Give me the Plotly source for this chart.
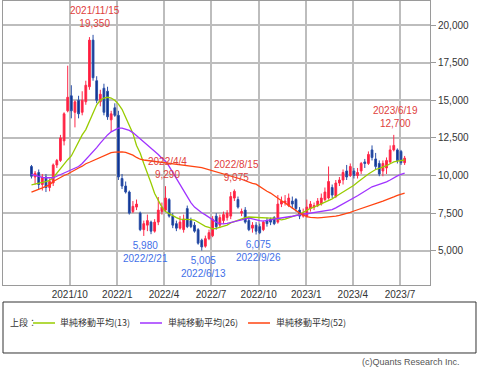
import pandas as pd
import plotly.graph_objects as go

# Weekly candles from 2021-07-19 to 2023-07-10
week_start = "2021-07-19"
n_weeks = 104
dates = pd.date_range(week_start, periods=n_weeks, freq="W-MON")

opens = [10600, 9900, 10200, 9400, 9900, 9200, 9500, 10700, 11000, 12300,
         14300, 15300, 14200, 15000, 14200, 14900, 15900, 19000, 16300, 14900,
         15800, 15600, 13700, 14500, 14000, 9800, 9300, 8900, 7600, 7900,
         7500, 6400, 6700, 6900, 6300, 6900, 7600, 7700, 8400, 7300,
         6800, 6500, 6400, 7800, 7000, 6700, 6400, 5700, 5300, 5800,
         6000, 7300, 6700, 7000, 7200, 7300, 8500, 8400, 7500, 7700,
         7000, 6500, 6700, 6600, 6400, 7000, 7100, 7200, 6900, 8100,
         8200, 8000, 8300, 8400, 7700, 7300, 7300, 7800, 7900, 8000,
         8100, 8400, 8500, 9200, 8600, 9500, 9700, 10300, 10000, 10300,
         10000, 10300, 10900, 10800, 11700, 11100, 10800, 10300, 10500, 10900,
         11700, 11700, 11600, 10850]
highs = [10700, 10300, 10400, 10100, 10100, 9800, 10800, 11100, 12700, 14200,
         17300, 16000, 15000, 15300, 15600, 16300, 19200, 19350, 16600, 15700,
         16100, 15900, 14300, 14800, 14300, 10100, 9600, 9000, 8300, 8400,
         7600, 7000, 7400, 7000, 7100, 8570, 8200, 9290, 8500, 7500,
         7000, 7300, 7400, 8000, 7200, 6900, 6500, 5800, 6000, 6400,
         7300, 7500, 7400, 7600, 7700, 8900, 9075, 8600, 7800, 7900,
         7200, 6900, 6900, 6800, 7000, 7200, 7200, 7300, 8700, 8600,
         8700, 8800, 8600, 8500, 7900, 7800, 8400, 8300, 8200, 8500,
         8800, 9200, 10600, 9400, 9700, 9900, 10400, 10700, 10800, 10500,
         10500, 10900, 11100, 11600, 12000, 11500, 11000, 11000, 11200, 12000,
         12700, 11800, 11700, 11300]
lows = [9800, 9400, 9100, 9000, 8900, 8950, 9300, 10500, 10900, 12000,
        14200, 13800, 13200, 13800, 14000, 14700, 15700, 16300, 14800, 14600,
        14000, 13700, 12900, 13900, 9700, 9100, 8800, 7400, 7500, 7700,
        6300, 5980, 6300, 6100, 6200, 6700, 7400, 7600, 7200, 6500,
        6300, 6400, 6200, 6500, 6500, 6200, 5400, 5005, 5200, 5700,
        5900, 6400, 6500, 6800, 7000, 7100, 8300, 7800, 7300, 6800,
        6300, 6200, 6075, 6100, 6300, 6600, 6700, 6700, 6800, 7900,
        8000, 7900, 7800, 7600, 7100, 7200, 7200, 7600, 7700, 7900,
        8000, 8300, 8400, 8500, 8500, 9300, 9400, 9700, 9900, 9800,
        9800, 10100, 10500, 10700, 11000, 10400, 9950, 9950, 10100, 10800,
        11600, 10800, 10700, 10700]
closes = [9950, 10150, 9400, 9900, 9200, 9600, 10700, 11000, 12500, 14100,
          15200, 14300, 14900, 14100, 15000, 16000, 19000, 16500, 15000, 15400,
          14200, 13900, 14100, 14000, 9900, 9300, 8900, 7500, 7950, 8100,
          6400, 6800, 7000, 6300, 6900, 7700, 7900, 8500, 7300, 6700,
          6500, 6900, 7100, 6600, 6600, 6300, 5500, 5250, 5800, 6200,
          7100, 6600, 7200, 7400, 7500, 8600, 8950, 7900, 7600, 6900,
          6400, 6700, 6300, 6200, 6900, 6800, 6900, 6800, 8100, 8300,
          8300, 8500, 8100, 7800, 7300, 7500, 7900, 8100, 8000, 8300,
          8500, 8900, 9600, 8700, 9500, 9700, 10200, 9900, 10600, 10000,
          10200, 10800, 10800, 11400, 11200, 10600, 10100, 10800, 11000, 11700,
          12000, 11000, 10850, 11150]

ma13 = [9380, 9420, 9480, 9540, 9600, 9680, 9850, 10150, 10500, 10800,
        11050, 11300, 11800, 12300, 12700, 13050, 13600, 14200, 14700, 15000,
        15150, 15200, 15150, 15000, 14750, 14400, 13900, 13400, 12800, 12000,
        11500, 10800, 10200, 9500, 8800, 8300, 7900, 7600, 7450, 7300,
        7200, 7100, 7100, 7080, 7060, 7040, 6900, 6750, 6620, 6550,
        6460, 6480, 6560, 6630, 6700, 6850, 6950, 7050, 7150, 7200,
        7240, 7220, 7200, 7180, 7170, 7170, 7170, 7160, 7100, 7050,
        7100, 7200, 7280, 7350, 7420, 7550, 7700, 7820, 7900, 8000,
        8120, 8250, 8350, 8450, 8600, 8750, 8900, 9000, 9150, 9350,
        9550, 9750, 9920, 10100, 10250, 10400, 10480, 10550, 10650, 10780,
        10900, 10950, 11000, 11030]
ma26 = [10080, 10000, 9930, 9880, 9850, 9830, 9850, 9950, 10050, 10150,
        10250, 10350, 10450, 10600, 10800, 11050, 11300, 11550, 11850, 12150,
        12450, 12700, 12900, 13050, 13150, 13150, 13100, 13000, 12850, 12650,
        12450, 12250, 12050, 11850, 11650, 11400, 11150, 10950, 10600, 10200,
        9800, 9350, 8950, 8550, 8200, 7900, 7700, 7520, 7380, 7200,
        7050, 6900, 6800, 6780, 6820, 6880, 6920, 6960, 7050, 7120,
        7170, 7120, 7050, 7000, 6970, 7000, 7050, 7100, 7140, 7170,
        7200, 7250, 7290, 7340, 7380, 7410, 7440, 7470, 7500, 7530,
        7570, 7620, 7680, 7730, 7850, 7980, 8100, 8220, 8350, 8500,
        8650, 8800, 8950, 9100, 9250, 9330, 9400, 9480, 9580, 9700,
        9850, 9970, 10080, 10160]
ma52 = [8900, 8980, 9080, 9180, 9280, 9380, 9600, 9750, 9900, 10000,
        10100, 10250, 10380, 10500, 10620, 10780, 10880, 10980, 11100, 11220,
        11320, 11430, 11520, 11560, 11580, 11570, 11530, 11450, 11350, 11200,
        11080, 11030, 11000, 10980, 10950, 10930, 10900, 10870, 10840, 10800,
        10770, 10740, 10710, 10680, 10650, 10610, 10560, 10520, 10450, 10380,
        10320, 10260, 10200, 10130, 10060, 9980, 9900, 9830, 9750, 9650,
        9550, 9480, 9420, 9250, 9080, 8950, 8830, 8650, 8480, 8320,
        8180, 8000, 7820, 7650, 7500, 7380, 7260, 7210, 7170, 7180,
        7200, 7220, 7240, 7250, 7300, 7350, 7400, 7470, 7550, 7640,
        7730, 7820, 7900, 7980, 8060, 8140, 8220, 8300, 8380, 8480,
        8580, 8680, 8760, 8830]

ma_names = ["単純移動平均(13)", "単純移動平均(26)", "単純移動平均(52)"]
ma_colors = ["#99cc00", "#a033ff", "#ff4411"]
legend_title = "上段："

x_tick_dates = ["2021-10-01", "2022-01-01", "2022-04-01", "2022-07-01",
                "2022-10-01", "2023-01-01", "2023-04-01", "2023-07-01"]
x_tick_labels = ["2021/10", "2022/1", "2022/4", "2022/7",
                 "2022/10", "2023/1", "2023/4", "2023/7"]
y_ticks = [5000, 7500, 10000, 12500, 15000, 17500, 20000]

# annotated extremes
ann_dates = ["2021-11-15", "2022-04-04", "2022-08-15", "2023-06-19",
             "2022-02-21", "2022-06-13", "2022-09-26"]
ann_labels = ["2021/11/15", "2022/4/4", "2022/8/15", "2023/6/19",
              "2022/2/21", "2022/6/13", "2022/9/26"]
ann_values = [19350, 9290, 9075, 12700, 5980, 5005, 6075]
ann_kind = ["high", "high", "high", "high", "low", "low", "low"]

fig = go.Figure()
fig.add_trace(go.Candlestick(
    x=dates, open=opens, high=highs, low=lows, close=closes,
    increasing=dict(line=dict(color="#ff2a4a", width=1), fillcolor="#ff1a3c"),
    decreasing=dict(line=dict(color="#2a4fa8", width=1), fillcolor="#0a2e8a"),
    whiskerwidth=0, showlegend=False, hoverinfo="skip"))

for name, col, vals in zip(ma_names, ma_colors, [ma13, ma26, ma52]):
    fig.add_trace(go.Scatter(x=dates, y=vals, mode="lines", name=name,
                             line=dict(color=col, width=1.3), hoverinfo="skip",
                             showlegend=False))

for d, lab, v, k in zip(ann_dates, ann_labels, ann_values, ann_kind):
    if k == "high":
        fig.add_annotation(x=d, y=v, text=f"{lab}<br>{v:,}", showarrow=False,
                           xanchor="center", yanchor="bottom", yshift=4, xshift=2,
                           font=dict(color="#e0403c", size=10, family="Liberation Sans"),
                           align="center")
    else:
        fig.add_annotation(x=d, y=v, text=f"{v:,}<br>{lab}", showarrow=False,
                           xanchor="center", yanchor="top", yshift=-2, xshift=2,
                           font=dict(color="#3f6fe8", size=10, family="Liberation Sans"),
                           align="center")

# legend box (drawn manually to match the original layout)
fig.add_shape(type="rect", xref="paper", yref="paper",
              x0=0, x1=1.1077, y0=-0.2394, y1=-0.0599,
              line=dict(color="#333333", width=1), fillcolor="rgba(0,0,0,0)")
leg_y = -0.1338
fig.add_annotation(xref="paper", yref="paper", x=0.0117, y=leg_y, text=legend_title,
                   showarrow=False, xanchor="left", yanchor="middle",
                   font=dict(size=9, family="Noto Sans CJK JP", color="#333333"))
leg_line_x = [(0.0703, 0.1218), (0.3208, 0.3724), (0.5738, 0.6253)]
leg_text_x = [0.1288, 0.3817, 0.6347]
for name, col, (lx0, lx1), tx in zip(ma_names, ma_colors, leg_line_x, leg_text_x):
    fig.add_shape(type="line", xref="paper", yref="paper", x0=lx0, x1=lx1,
                  y0=leg_y, y1=leg_y, line=dict(color=col, width=1.5))
    fig.add_annotation(xref="paper", yref="paper", x=tx, y=leg_y, text=name,
                       showarrow=False, xanchor="left", yanchor="middle",
                       font=dict(size=9, family="Noto Sans CJK JP", color="#333333"))

fig.add_annotation(xref="paper", yref="paper", x=1.075, y=-0.271,
                   text="(c)Quants Research Inc.", showarrow=False,
                   xanchor="right", yanchor="middle",
                   font=dict(size=9, color="#555555", family="Liberation Sans"))

fig.update_layout(
    width=478, height=369,
    margin=dict(l=3, r=48, t=1, b=84),
    paper_bgcolor="white", plot_bgcolor="white",
    font=dict(family="Liberation Sans, Noto Sans CJK JP", size=10, color="#333333"),
    showlegend=False,
    xaxis=dict(type="date", range=["2021-05-25", "2023-08-28"],
               tickvals=x_tick_dates, ticktext=x_tick_labels,
               showgrid=True, gridcolor="#bdbdbd", gridwidth=2,
               showline=True, linecolor="#9a9a9a", linewidth=1, mirror=True,
               ticks="", rangeslider=dict(visible=False), zeroline=False,
               tickfont=dict(size=10)),
    yaxis=dict(side="right", range=[2720, 21600], tickvals=y_ticks,
               tickformat=",", showgrid=True, gridcolor="#bdbdbd", gridwidth=2,
               showline=True, linecolor="#9a9a9a", linewidth=1, mirror=True,
               ticks="outside", ticklen=5, tickcolor="#9a9a9a", zeroline=False,
               tickfont=dict(size=10)),
)

fig.write_html("out.html", config={"displayModeBar": False},
               post_script="document.body.style.margin='0';")
